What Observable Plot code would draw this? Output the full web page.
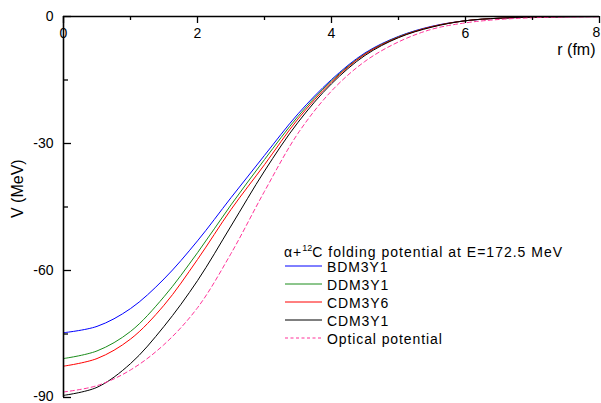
<!DOCTYPE html>
<html><head><meta charset="utf-8">
<script src="https://cdn.jsdelivr.net/npm/d3@7"></script>
<script src="https://cdn.jsdelivr.net/npm/@observablehq/plot@0.6"></script>
<style>
body{margin:0;background:#fff;}
#wrap{position:relative;width:601px;height:403px;font-family:"Liberation Sans",Arial,sans-serif;}
#wrap svg.overlay{position:absolute;left:0;top:0;pointer-events:none;}
</style></head><body><div id="wrap"></div>
<script>
// radius r (fm)
const r = [0,0.5,1,1.5,2,2.5,3,3.5,4,4.5,5,5.5,6,6.5,7,7.5,8];
// potentials V (MeV)
const bdm3y1 = [-74.7,-73.2,-69.0,-62.0,-53.0,-42.8,-32.8,-23.0,-14.9,-8.6,-4.7,-2.3,-1.0,-0.4,-0.15,-0.05,-0.02];
const ddm3y1 = [-80.8,-79.0,-74.4,-66.2,-55.8,-44.5,-33.8,-23.6,-15.2,-8.8,-4.8,-2.4,-1.0,-0.4,-0.15,-0.05,-0.02];
const cdm3y6 = [-82.6,-80.8,-76.2,-68.2,-57.4,-45.6,-35.0,-24.2,-15.5,-8.9,-4.9,-2.4,-1.0,-0.4,-0.15,-0.05,-0.02];
const cdm3y1 = [-89.5,-87.6,-82.0,-73.2,-62.4,-49.5,-36.5,-25.0,-15.9,-9.2,-5.0,-2.5,-1.0,-0.4,-0.15,-0.05,-0.02];
const optical = [-88.7,-87.2,-83.5,-77.5,-68.8,-56.0,-41.3,-27.6,-17.6,-10.6,-6.0,-3.0,-1.5,-0.7,-0.3,-0.12,-0.05];

const seriesNames = ["BDM3Y1","DDM3Y1","CDM3Y6","CDM3Y1","Optical potential"];
const seriesValues = [bdm3y1, ddm3y1, cdm3y6, cdm3y1, optical];
const seriesColors = ["#0000ff","#1a8c1a","#ff0000","#000000","#ff3399"];
const seriesDash = [null,null,null,null,"4,3"];

const xMajor = [0,2,4,6,8];
const xMinor = [1,3,5,7];
const yMajor = [0,-30,-60,-90];
const yMinor = [-15,-45,-75];
const yTickLabels = ["0","-30","-60","-90"];
const xTickLabels = ["0","2","4","6","8"];

const legendTitle = ["\u03B1+", "12", "C folding potential at E=172.5 MeV"];

const W = 601, H = 403, mL = 63, mR = 2, mT = 16, mB = 6;
const fw = W - mL - mR, fh = H - mT - mB;
const font = "'Liberation Sans', Arial, sans-serif";

const lineMarks = seriesNames.map((name, i) =>
  Plot.line(r.map((rv, j) => ({r: rv, v: seriesValues[i][j]})), {
    x: "r", y: "v", stroke: seriesColors[i], strokeWidth: 1,
    strokeDasharray: seriesDash[i] || undefined, curve: "catmull-rom"
  })
);

const chart = Plot.plot({
  width: W, height: H,
  marginLeft: mL, marginRight: mR, marginTop: mT, marginBottom: mB,
  x: {domain: [0, 8], axis: null},
  y: {domain: [-90, 0], axis: null},
  style: {fontFamily: font, fontSize: "14px", background: "#fff", color: "#000", overflow: "visible"},
  marks: [
    ...lineMarks,
    Plot.ruleY([0], {stroke: "#000", strokeWidth: 1.6}),
    Plot.ruleX([0], {stroke: "#000", strokeWidth: 1.6}),
    Plot.tickX(xMajor, {x: d => d, insetBottom: fh - 7, stroke: "#000", strokeWidth: 1.3}),
    Plot.tickX(xMinor, {x: d => d, insetBottom: fh - 4, stroke: "#000", strokeWidth: 1.3}),
    Plot.tickY(yMajor, {y: d => d, insetRight: fw - 8, stroke: "#000", strokeWidth: 1.3}),
    Plot.tickY(yMinor, {y: d => d, insetRight: fw - 5, stroke: "#000", strokeWidth: 1.3}),
    Plot.text(xMajor.slice(0, 4), {x: d => d, frameAnchor: "top", lineAnchor: "middle", dy: 17, text: (d, i) => xTickLabels[i], fontSize: 14, fill: "#000"}),
    Plot.text(xMajor.slice(4), {x: d => d, frameAnchor: "top", lineAnchor: "middle", dy: 16, dx: -3, text: (d, i) => xTickLabels[4 + i], fontSize: 14, fill: "#000"}),
    Plot.text(yMajor.slice(0, 3), {y: d => d, frameAnchor: "left", dx: -10, textAnchor: "end", text: (d, i) => yTickLabels[i], fontSize: 14, fill: "#000"}),
    Plot.text(yMajor.slice(3), {y: d => d, frameAnchor: "left", dx: -10, dy: -1, textAnchor: "end", text: (d, i) => yTickLabels[3 + i], fontSize: 14, fill: "#000"}),
    Plot.text(["V (MeV)"], {frameAnchor: "left", lineAnchor: "middle", dx: -46, dy: 11, rotate: -90, text: d => d, fontSize: 16, fill: "#000"}),
    Plot.text(["r (fm)"], {frameAnchor: "top-right", lineAnchor: "middle", dx: -4, dy: 33, textAnchor: "end", text: d => d, fontSize: 16, letterSpacing: "1px", fill: "#000"})
  ]
});
const wrap = document.getElementById("wrap");
wrap.appendChild(chart);

// legend overlay
const ns = "http://www.w3.org/2000/svg";
const lg = document.createElementNS(ns, "svg");
lg.setAttribute("class", "overlay");
lg.setAttribute("width", W); lg.setAttribute("height", H);
lg.setAttribute("font-family", font);
const title = document.createElementNS(ns, "text");
title.setAttribute("x", 284); title.setAttribute("y", 257);
title.setAttribute("font-size", 14); title.setAttribute("letter-spacing", "1");
const t1 = document.createElementNS(ns, "tspan"); t1.textContent = legendTitle[0];
const t2 = document.createElementNS(ns, "tspan"); t2.textContent = legendTitle[1];
t2.setAttribute("font-size", 9); t2.setAttribute("dy", -6); t2.setAttribute("letter-spacing", "0");
const t3 = document.createElementNS(ns, "tspan"); t3.textContent = legendTitle[2];
t3.setAttribute("dy", 6);
title.append(t1, t2, t3);
lg.appendChild(title);
seriesNames.forEach((name, i) => {
  const y = 266 + i * 18;
  const ln = document.createElementNS(ns, "line");
  ln.setAttribute("x1", 285); ln.setAttribute("x2", 322);
  ln.setAttribute("y1", y); ln.setAttribute("y2", y);
  ln.setAttribute("stroke", seriesColors[i]); ln.setAttribute("stroke-width", 1);
  if (seriesDash[i]) ln.setAttribute("stroke-dasharray", "3,2.5");
  lg.appendChild(ln);
  const tx = document.createElementNS(ns, "text");
  tx.setAttribute("x", 327); tx.setAttribute("y", y + 6);
  tx.setAttribute("font-size", 14); tx.setAttribute("letter-spacing", "0.9");
  tx.textContent = name;
  lg.appendChild(tx);
});
wrap.appendChild(lg);
</script>
</body></html>
